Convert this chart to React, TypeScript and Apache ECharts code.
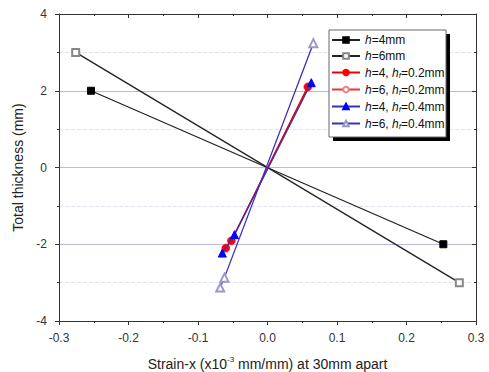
import React, { useEffect, useRef } from "react";
import * as echarts from "echarts";

// Strain vs total thickness for each specimen configuration
const h4 = [[-0.254, 2.0], [0.253, -2.0]];
const h6 = [[-0.276, 3.0], [0.276, -3.0]];
const h4f02 = [[-0.06, -2.1], [-0.052, -1.91], [0.058, 2.1]];
const h6f02 = [[-0.06, -2.1], [-0.052, -1.91], [0.058, 2.1]];
const h4f04 = [[-0.065, -2.23], [-0.0475, -1.75], [0.063, 2.21]];
const h6f04 = [[-0.068, -3.13], [-0.062, -2.87], [0.066, 3.24]];

const seriesNames = [
  "h=4mm",
  "h=6mm",
  "h=4, hf=0.2mm",
  "h=6, hf=0.2mm",
  "h=4, hf=0.4mm",
  "h=6, hf=0.4mm",
];
const richNames: Record<string, string> = {
  "h=4mm": "{i|h}{n|=4mm}",
  "h=6mm": "{i|h}{n|=6mm}",
  "h=4, hf=0.2mm": "{i|h}{n|=4, }{i|h}{s|f}{n|=0.2mm}",
  "h=6, hf=0.2mm": "{i|h}{n|=6, }{i|h}{s|f}{n|=0.2mm}",
  "h=4, hf=0.4mm": "{i|h}{n|=4, }{i|h}{s|f}{n|=0.4mm}",
  "h=6, hf=0.4mm": "{i|h}{n|=6, }{i|h}{s|f}{n|=0.4mm}",
};

const xTicks = [-0.3, 0.3, 0.1];
const yTicks = [-4, 4, 2];

const FONT = "Liberation Sans, Arial, sans-serif";

export default function App() {
  const ref = useRef<HTMLDivElement>(null);
  useEffect(() => {
    if (!ref.current) return;
    const chart = echarts.init(ref.current, undefined, { renderer: "svg" });
    const axisLine = { lineStyle: { color: "#333", width: 1 } };
    const mk = (
      name: string,
      data: number[][],
      symbol: string,
      lineColor: string,
      markColor: string,
      z: number,
      size = 7
    ) => ({
      name,
      type: "line",
      data,
      symbol,
      symbolSize: size,
      z,
      lineStyle: { color: lineColor, width: 1.3 },
      itemStyle: {
        color: markColor,
        borderColor: markColor,
        borderWidth: 1,
      },
    });
    chart.setOption({
      animation: false,
      textStyle: { fontFamily: FONT },
      grid: { left: 59, right: 13, top: 14, bottom: 51, outerBoundsMode: "none" },
      xAxis: [
        {
          type: "value",
          min: xTicks[0],
          max: xTicks[1],
          interval: xTicks[2],
          axisLine: { ...axisLine, onZero: false },
          axisTick: { show: true, length: 4, lineStyle: { color: "#333" } },
          minorTick: { show: true, splitNumber: 2, length: 2, lineStyle: { color: "#333" } },
          axisLabel: {
            color: "#333",
            fontSize: 12,
            margin: 11,
            formatter: (v: number) => v.toFixed(1),
          },
          splitLine: { show: false },
          name: "{n|Strain-x (x10}{sup|-3}{n| mm/mm) at 30mm apart}",
          nameLocation: "middle",
          nameGap: 34,
          nameTextStyle: {
            rich: {
              n: { fontSize: 14, color: "#222", fontFamily: FONT },
              sup: { fontSize: 8, color: "#222", fontFamily: FONT, padding: [0, 0, 9, 0] },
            },
          },
        },
        {
          type: "value",
          position: "top",
          min: xTicks[0],
          max: xTicks[1],
          interval: xTicks[2],
          axisLine: { ...axisLine, onZero: false },
          axisTick: { show: true, inside: true, length: 4, lineStyle: { color: "#333" } },
          minorTick: { show: true, splitNumber: 2, length: 2, lineStyle: { color: "#333" } },
          axisLabel: { show: false },
          splitLine: { show: false },
        },
      ],
      yAxis: [
        {
          type: "value",
          min: yTicks[0],
          max: yTicks[1],
          interval: yTicks[2],
          axisLine: { ...axisLine, onZero: false },
          axisTick: { show: true, length: 4, lineStyle: { color: "#333" } },
          minorTick: { show: true, splitNumber: 2, length: 2, lineStyle: { color: "#333" } },
          axisLabel: { color: "#333", fontSize: 12, margin: 12 },
          splitLine: { show: true, lineStyle: { color: "#b8b8e4", width: 1 } },
          minorSplitLine: {
            show: true,
            lineStyle: { color: "#e2e2ee", width: 1, type: "dashed" },
          },
          name: "Total thickness (mm)",
          nameLocation: "middle",
          nameGap: 32,
          nameTextStyle: { fontSize: 14, color: "#222", fontFamily: FONT },
        },
        {
          type: "value",
          position: "right",
          min: yTicks[0],
          max: yTicks[1],
          interval: yTicks[2],
          axisLine: { ...axisLine, onZero: false },
          axisTick: { show: true, inside: true, length: 4, lineStyle: { color: "#333" } },
          minorTick: { show: true, splitNumber: 2, length: 2, lineStyle: { color: "#333" } },
          axisLabel: { show: false },
          splitLine: { show: false },
        },
      ],
      legend: {
        orient: "vertical",
        left: 331,
        top: 34,
        z: 12,
        padding: 0,
        itemWidth: 28,
        itemHeight: 7,
        itemGap: 4,
        data: seriesNames,
        formatter: (name: string) => richNames[name] || name,
        textStyle: {
          fontFamily: FONT,
          rich: {
            n: { fontSize: 12, color: "#111", fontFamily: FONT, lineHeight: 14 },
            i: { fontSize: 12, color: "#111", fontStyle: "italic", fontFamily: FONT, lineHeight: 14 },
            s: {
              fontSize: 8,
              color: "#111",
              fontStyle: "italic",
              fontFamily: FONT,
              padding: [5, 0, 0, 0],
              lineHeight: 14,
            },
          },
        },
      },
      graphic: [
        {
          type: "rect",
          z: 10,
          shape: { x: 333, y: 34, width: 117, height: 107 },
          style: { fill: "#000" },
        },
        {
          type: "rect",
          z: 11,
          shape: { x: 329, y: 30, width: 117, height: 107 },
          style: { fill: "#fff", stroke: "#666", lineWidth: 1 },
        },
      ],
      series: [
        mk(seriesNames[0], h4, "rect", "#222", "#000", 3),
        mk(seriesNames[1], h6, "emptyRect", "#222", "#888", 3),
        mk(seriesNames[3], h6f02, "emptyCircle", "#ee3333", "#f08080", 2),
        mk(seriesNames[2], h4f02, "circle", "#ee0000", "#ff0000", 4),
        mk(seriesNames[4], h4f04, "triangle", "#3a2ec0", "#0000ff", 5, 8),
        mk(seriesNames[5], h6f04, "emptyTriangle", "#3a2ec0", "#9a98c8", 5, 8),
      ],
    });
    return () => chart.dispose();
  }, []);
  return (
    <div
      ref={ref}
      style={{ position: "absolute", left: 0, top: 0, width: 489, height: 372 }}
    />
  );
}
